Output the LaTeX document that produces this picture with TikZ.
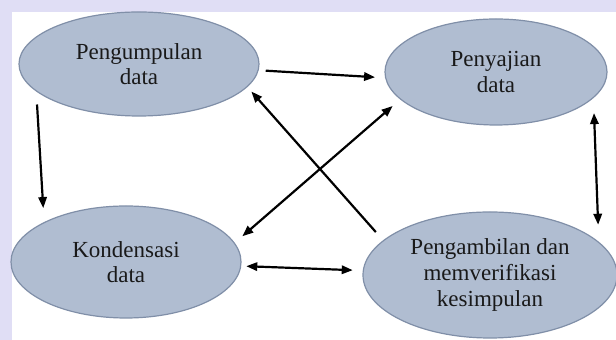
\documentclass[tikz,border=0pt]{standalone}
\usepackage{fontspec}
\setmainfont{Liberation Serif}
\usetikzlibrary{arrows.meta,shapes.geometric}

\begin{document}
\begin{tikzpicture}[x=0.5pt,y=-0.5pt,
  blob/.style={ellipse,draw=eB,line width=0.6pt,fill=eA,inner sep=0pt,
    align=center,text=black!90,font=\fontsize{11.5}{12.8}\selectfont},
  link/.style={line width=1.1pt,-{Triangle[length=5.5pt,width=4.2pt]}},
  both/.style={line width=1.1pt,{Triangle[length=5.5pt,width=4.2pt]}-{Triangle[length=5.5pt,width=4.2pt]}}]
\definecolor{bgA}{rgb}{0.88,0.87,0.96}
\definecolor{eA}{rgb}{0.69,0.74,0.82}
\definecolor{eB}{rgb}{0.50,0.56,0.66}
\useasboundingbox (0,0) rectangle (616,340);
\fill[bgA] (0,0) rectangle (616,340);
\fill[white] (12,12) rectangle (616,340);
% the four stages
\node[blob,minimum width=120pt,minimum height=52pt] (kumpul) at (139,64) {Pengumpulan\\data};
\node[blob,minimum width=111pt,minimum height=53pt] (saji) at (496,72) {Penyajian\\data};
\node[blob,minimum width=115pt,minimum height=56pt] (kondensasi) at (126,262) {Kondensasi\\data};
\node[blob,minimum width=127pt,minimum height=63pt] (simpul) at (490,275) {Pengambilan dan\\memverifikasi\\kesimpulan};
% connectors
\draw[link,shorten <=3.5pt,shorten >=5pt] (kumpul.-3) -- (saji.183);
\draw[link,shorten <=6.5pt,shorten >=7pt] (kumpul.195) -- (kondensasi.154);
\draw[link,shorten <=5.5pt,shorten >=3pt] (simpul.162) -- (kumpul.-12);
\draw[both,shorten <=5pt,shorten >=5pt] (kondensasi.10) -- (saji.196);
\draw[both,shorten <=2.5pt,shorten >=5pt] (kondensasi.-2) -- (simpul.178);
\draw[both,shorten <=7.5pt,shorten >=8.5pt] (saji.-15) -- (simpul.17);
\end{tikzpicture}
\end{document}
